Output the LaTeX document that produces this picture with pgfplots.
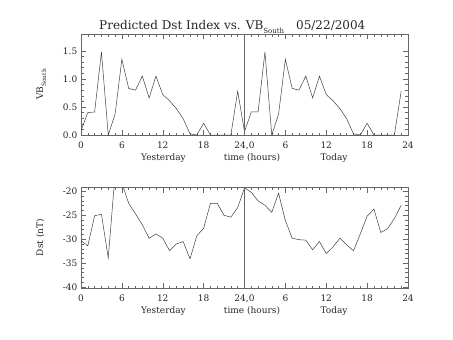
\documentclass[border=0pt]{standalone}
\usepackage{fontspec}
\setmainfont{DejaVu Serif}
\usepackage{pgfplots}
\pgfplotsset{compat=1.18}
\usepackage{pgfplotstable}

\pgfplotstableread{
h vb
0 0.08
1 0.40
2 0.41
3 1.48
4 0.00
5 0.37
6 1.35
7 0.83
8 0.80
9 1.05
10 0.66
11 1.05
12 0.72
13 0.61
14 0.47
15 0.29
16 0.02
17 0.00
18 0.21
19 0.00
20 0.00
21 0.00
22 0.00
23 0.78
24 0.06
25 0.41
26 0.41
27 1.48
28 0.00
29 0.37
30 1.35
31 0.83
32 0.80
33 1.05
34 0.66
35 1.05
36 0.72
37 0.61
38 0.47
39 0.29
40 0.02
41 0.00
42 0.21
43 0.00
44 0.00
45 0.00
46 0.00
47 0.78
}\vbdata

\pgfplotstableread{
h dst
0 -30.3
1 -31.4
2 -25.1
3 -24.8
4 -33.9
5 -16.5
6 -18.3
7 -22.5
8 -24.7
9 -27.0
10 -29.8
11 -28.9
12 -29.8
13 -32.4
14 -31.0
15 -30.5
16 -34.1
17 -29.3
18 -27.7
19 -22.5
20 -22.5
21 -25.0
22 -25.4
23 -23.4
24 -19.3
25 -20.2
26 -22.0
27 -22.9
28 -24.4
29 -20.4
30 -26.1
31 -29.8
32 -30.1
33 -30.2
34 -32.2
35 -30.5
36 -33.0
37 -31.6
38 -29.8
39 -31.2
40 -32.4
41 -28.9
42 -25.2
43 -23.7
44 -28.6
45 -27.8
46 -25.7
47 -22.9
}\dstdata

\pgfplotsset{
  idl/.style={
    scale only axis, width=327pt, xmin=0, xmax=48,
    xtick={0,6,...,48}, xticklabels={0,6,12,18,{24,0},6,12,18,24},
    minor x tick num=5,
    tick align=inside, major tick length=5pt, minor tick length=2.5pt,
    every tick/.style={black!60, line width=0.4pt},
    axis line style={black!60, line width=0.4pt},
    tick label style={font=\fontsize{9}{10}\selectfont, text=black!85},
    xticklabel style={anchor=base, yshift=-13pt, inner sep=0pt},
    yticklabel style={anchor=east, xshift=-3.5pt, inner sep=0pt},
  }
}

\begin{document}
\begin{tikzpicture}
\path[use as bounding box] (0pt,0pt) rectangle (453pt,-340pt);

\begin{axis}[idl, at={(81pt,-135pt)}, anchor=south west, height=101pt,
  ymin=0, ymax=1.8, ytick={0,0.5,1.0,1.5}, yticklabels={0.0,0.5,1.0,1.5},
  minor y tick num=4]
\addplot[black!75, line width=0.5pt] table[x=h, y=vb] {\vbdata};
\addplot[black!60, line width=0.4pt] coordinates {(24,0) (24,1.8)};
\end{axis}

\begin{axis}[idl, at={(81pt,-288pt)}, anchor=south west, height=100.5pt,
  ymin=-40.2, ymax=-19.2, ytick={-40,-35,-30,-25,-20}, yticklabels={-40,-35,-30,-25,-20},
  minor y tick num=4]
\addplot[black!75, line width=0.5pt] table[x=h, y=dst] {\dstdata};
\addplot[black!60, line width=0.4pt] coordinates {(24,-40.2) (24,-19.2)};
\end{axis}

\node[anchor=base west, inner sep=0pt, text=black!85] at (99pt,-29pt) {\fontsize{12}{14}\selectfont Predicted Dst Index vs. VB\raisebox{-4pt}{\fontsize{7}{7}\selectfont South}\hspace{12pt}05/22/2004};

\node[rotate=90, anchor=base, inner sep=0pt, text=black!85] at (43pt,-84.5pt) {\fontsize{9}{10}\selectfont VB\raisebox{-3pt}{\fontsize{6}{6}\selectfont South}};
\node[rotate=90, anchor=base, inner sep=0pt, text=black!85] at (43pt,-237.5pt) {\fontsize{9}{10}\selectfont Dst (nT)};

\foreach \yb in {160,313}{
  \node[anchor=base, inner sep=0pt, text=black!85] at (163.5pt,-\yb pt) {\fontsize{9}{10}\selectfont Yesterday};
  \node[anchor=base, inner sep=0pt, text=black!85] at (252pt,-\yb pt) {\fontsize{9}{10}\selectfont time (hours)};
  \node[anchor=base, inner sep=0pt, text=black!85] at (334pt,-\yb pt) {\fontsize{9}{10}\selectfont Today};
}
\end{tikzpicture}
\end{document}
